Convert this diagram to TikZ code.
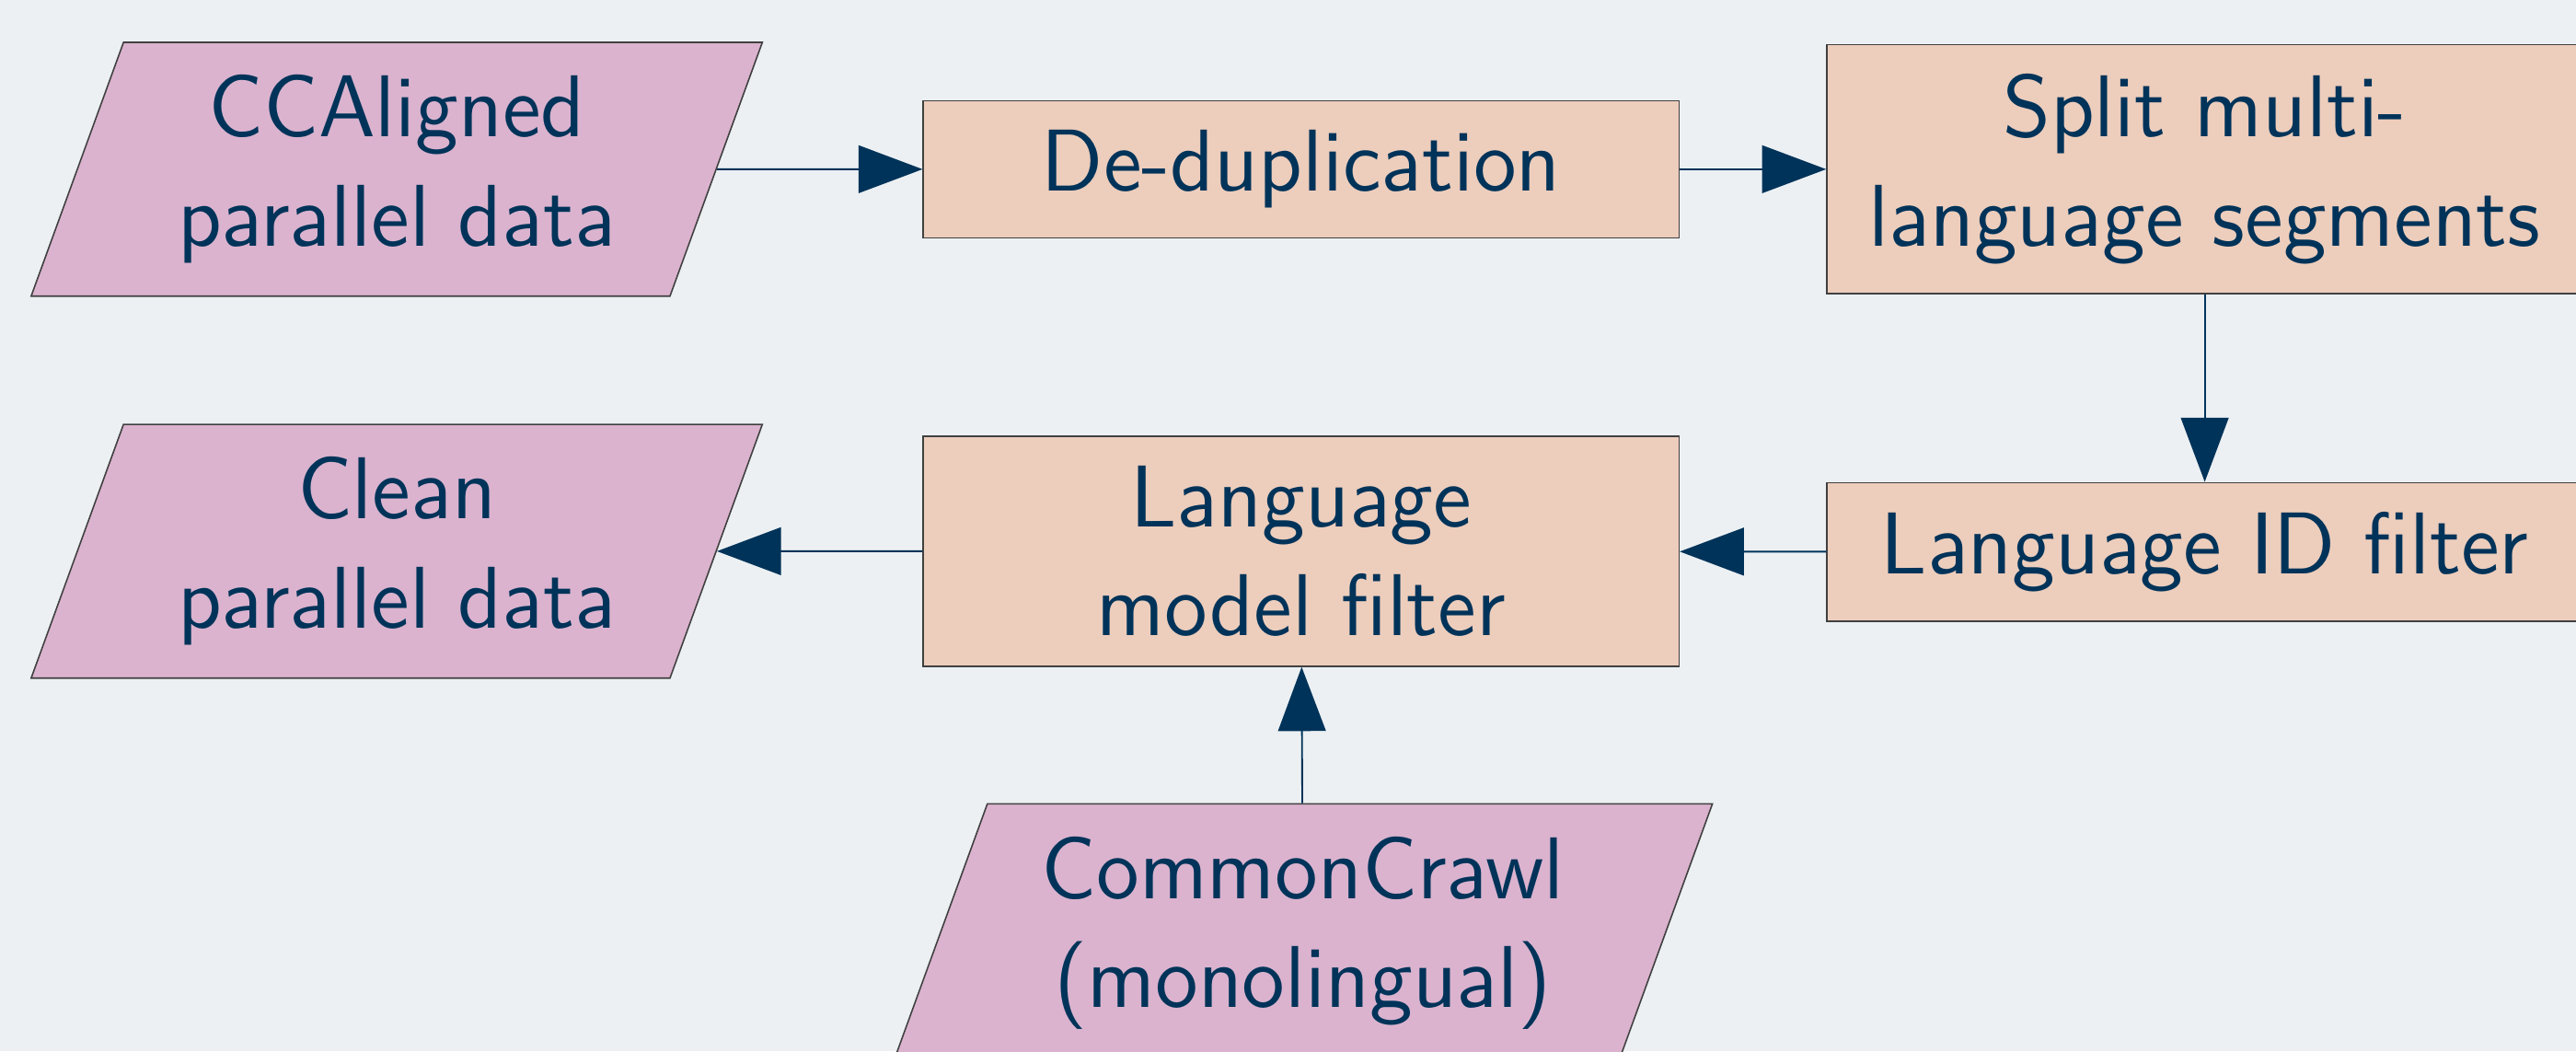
\documentclass[tikz,border=0pt]{standalone}
\usepackage{xcolor}
\usepackage{tikz}
\usetikzlibrary{positioning,calc,shapes.geometric,arrows.meta}

\definecolor{pagebg}{HTML}{ECF0F3}
\definecolor{datafill}{HTML}{DBB3CE}
\definecolor{stepfill}{HTML}{EDCDBC}
\definecolor{navy}{HTML}{003359}

\begin{document}
\begin{tikzpicture}[x=1cm,y=1cm,
		font=\sffamily\fontsize{15.2}{18.9}\selectfont,
		procbox/.style={draw=black!75, line width=0.25pt, fill=stepfill, text=navy, align=center, minimum width=4.6cm, inner ysep=0.18cm},
		databox/.style={trapezium, trapezium left angle=70, trapezium right angle=110, draw=black!75, line width=0.25pt, fill=datafill, text=navy, align=center, inner xsep=0.33cm, inner ysep=0.2cm},
		flow/.style={navy, line width=0.3pt, -{Triangle[length=3.9mm,width=2.9mm]}}]
			\def\w{15.68}
			\def\h{6.40}
			
			\useasboundingbox (0,0) rectangle (\w,\h);
			\fill[pagebg] (0,0) rectangle (\w,\h);
			
			% top row
			\node[databox] (ccaligned) at (2.415,5.37) {CCAligned\\parallel data};
			\node[procbox] (dedup) at (7.92,5.37) {De-duplication};
			\node[procbox] (splitseg) at (13.42,5.37) {Split multi-\\language segments};
			
			% second row
			\node[procbox] (langid) at (13.42,3.04) {Language ID filter};
			\node[procbox] (lmfilter) at (7.92,3.045) {Language\\model filter};
			\node[databox] (clean) at (2.415,3.045) {Clean\\parallel data};
			
			\node[databox] (commoncrawl) at (7.93,0.72) {CommonCrawl\\(monolingual)};
			
			\draw[flow] (ccaligned) -- (dedup);
			\draw[flow] (dedup) -- (splitseg);
			\draw[flow] (splitseg) -- (langid);
			\draw[flow] (langid) -- (lmfilter);
			\draw[flow] (lmfilter) -- (clean);
			\draw[flow] (commoncrawl) -- (lmfilter);
		\end{tikzpicture}
\end{document}
